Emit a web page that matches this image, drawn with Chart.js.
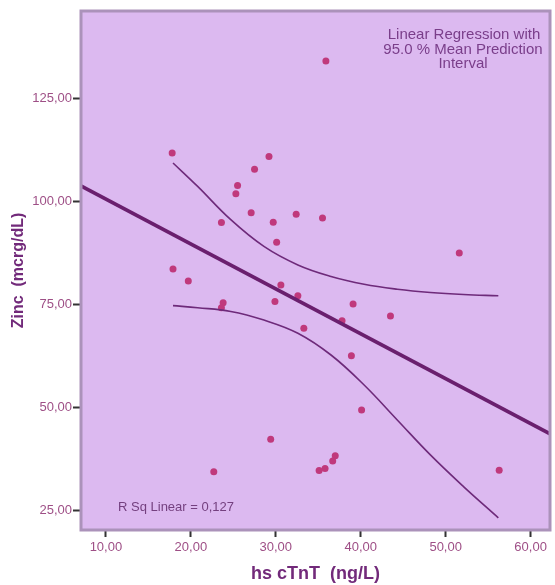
<!DOCTYPE html>
<html>
<head>
<meta charset="utf-8">
<script src="https://cdn.jsdelivr.net/npm/chart.js@4"></script>
<style>
  html, body { margin: 0; padding: 0; background: #ffffff; }
  #wrap { width: 555px; height: 585px; }
</style>
</head>
<body>
<div id="wrap"><canvas id="zincChart" width="555" height="585"></canvas></div>
<script>
// observed cases: hs cTnT (x) vs zinc (y)
const ctntX = [17.8, 29.2, 27.5, 25.5, 25.3, 27.1, 23.6, 29.7, 32.4, 35.5, 30.1,
               17.9, 19.7, 30.6, 32.6, 29.9, 23.8, 23.6, 37.8, 33.3, 35.9, 51.6,
               39.1, 43.5, 38.9, 40.1, 37.0, 36.7, 35.8, 35.1, 56.3, 29.4, 22.7];
const zincY = [111.8, 111.0, 107.9, 103.9, 101.9, 97.3, 94.9, 95.0, 96.9, 96.0, 90.1,
               83.6, 80.7, 79.7, 77.1, 75.7, 75.4, 74.2, 71.0, 69.2, 134.2, 87.5,
               75.1, 72.2, 62.5, 49.3, 38.2, 36.9, 35.1, 34.6, 34.7, 42.2, 34.3];

// fit line and 95% mean prediction interval
const fitX = [7.0, 62.4];
const fitY = [103.9, 43.4];
const bandX = [17.9, 20.8, 24.7, 28.6, 32.6, 36.5, 40.4, 44.3, 48.2, 52.1, 56.2];
const upperY = [109.4, 103.7, 95.6, 89.1, 84.6, 81.8, 79.9, 78.7, 77.9, 77.4, 77.1];
const lowerY = [74.7, 74.2, 73.3, 71.2, 68.0, 62.7, 55.4, 46.9, 38.4, 30.7, 23.1];

const xTicks = [10, 20, 30, 40, 50, 60];
const yTicks = [25, 50, 75, 100, 125];

const toXY = (xs, ys) => xs.map((x, i) => ({ x: x, y: ys[i] }));
const fmt = v => v.toFixed(2).replace('.', ',');

const plotBox = {
    id: 'plotBox',
    beforeDatasetsDraw(chart) {
        const { ctx, chartArea: a } = chart;
        ctx.save();
        ctx.fillStyle = '#dcb9f0';
        ctx.fillRect(a.left, a.top, a.right - a.left, a.bottom - a.top);
        ctx.restore();
    },
    afterDraw(chart) {
        const { ctx, chartArea: a } = chart;
        ctx.save();
        ctx.strokeStyle = '#ab92ba';
        ctx.lineWidth = 3;
        ctx.strokeRect(a.left + 1, a.top + 1, a.right - a.left - 2, a.bottom - a.top - 2);

        ctx.fillStyle = '#7a3e8a';
        ctx.font = '15px "Liberation Sans", Arial, sans-serif';
        ctx.textAlign = 'center';
        ctx.textBaseline = 'middle';
        ctx.fillText('Linear Regression with', 464, 35);
        ctx.fillText('95.0 % Mean Prediction', 463, 50);
        ctx.fillText('Interval', 463, 64);

        ctx.fillStyle = '#74407f';
        ctx.font = '13px "Liberation Sans", Arial, sans-serif';
        ctx.textAlign = 'left';
        ctx.fillText('R Sq Linear = 0,127', 118, 507);
        ctx.restore();
    }
};

new Chart(document.getElementById('zincChart'), {
    type: 'scatter',
    data: {
        datasets: [
            {
                label: 'Fit',
                data: toXY(fitX, fitY),
                showLine: true,
                borderColor: '#6a1f6e',
                borderWidth: 3.6,
                pointRadius: 0
            },
            {
                label: 'Upper',
                data: toXY(bandX, upperY),
                showLine: true,
                borderColor: '#6e2a7a',
                borderWidth: 1.6,
                pointRadius: 0,
                tension: 0.4
            },
            {
                label: 'Lower',
                data: toXY(bandX, lowerY),
                showLine: true,
                borderColor: '#6e2a7a',
                borderWidth: 1.6,
                pointRadius: 0,
                tension: 0.4
            },
            {
                label: 'Zinc',
                data: toXY(ctntX, zincY),
                backgroundColor: '#c0397c',
                borderColor: '#c0397c',
                pointRadius: 3.5,
                borderWidth: 0
            }
        ]
    },
    options: {
        responsive: false,
        animation: false,
        layout: {
            padding: { top: 10, right: 2, left: 0, bottom: 0 }
        },
        plugins: {
            legend: { display: false },
            tooltip: { enabled: false }
        },
        scales: {
            x: {
                type: 'linear',
                min: 6.95,
                max: 62.4,
                afterBuildTicks: s => { s.ticks = xTicks.map(v => ({ value: v })); },
                afterFit: s => { s.height = 54; },
                grid: {
                    drawOnChartArea: false,
                    drawTicks: true,
                    tickLength: 6,
                    tickWidth: 2,
                    tickColor: '#333333'
                },
                border: { display: false },
                ticks: {
                    padding: 3,
                    color: '#9e4f86',
                    font: { family: '"Liberation Sans", Arial, sans-serif', size: 13 },
                    callback: v => fmt(v)
                },
                title: {
                    display: true,
                    text: 'hs cTnT  (ng/L)',
                    color: '#722a7a',
                    padding: { top: 0, bottom: 0 },
                    font: { family: '"Liberation Sans", Arial, sans-serif', size: 18, weight: 'bold' }
                }
            },
            y: {
                type: 'linear',
                min: 19.9,
                max: 146.6,
                afterBuildTicks: s => { s.ticks = yTicks.map(v => ({ value: v })); },
                afterFit: s => { s.width = 80; },
                grid: {
                    drawOnChartArea: false,
                    drawTicks: true,
                    tickLength: 7,
                    tickWidth: 2,
                    tickColor: '#333333'
                },
                border: { display: false },
                ticks: {
                    padding: 1,
                    color: '#9e4f86',
                    font: { family: '"Liberation Sans", Arial, sans-serif', size: 13 },
                    callback: v => fmt(v)
                },
                title: {
                    display: true,
                    text: 'Zinc  (mcrg/dL)',
                    color: '#722a7a',
                    padding: { top: 9, bottom: 0 },
                    font: { family: '"Liberation Sans", Arial, sans-serif', size: 16, weight: 'bold' }
                }
            }
        }
    },
    plugins: [plotBox]
});
</script>
</body>
</html>
